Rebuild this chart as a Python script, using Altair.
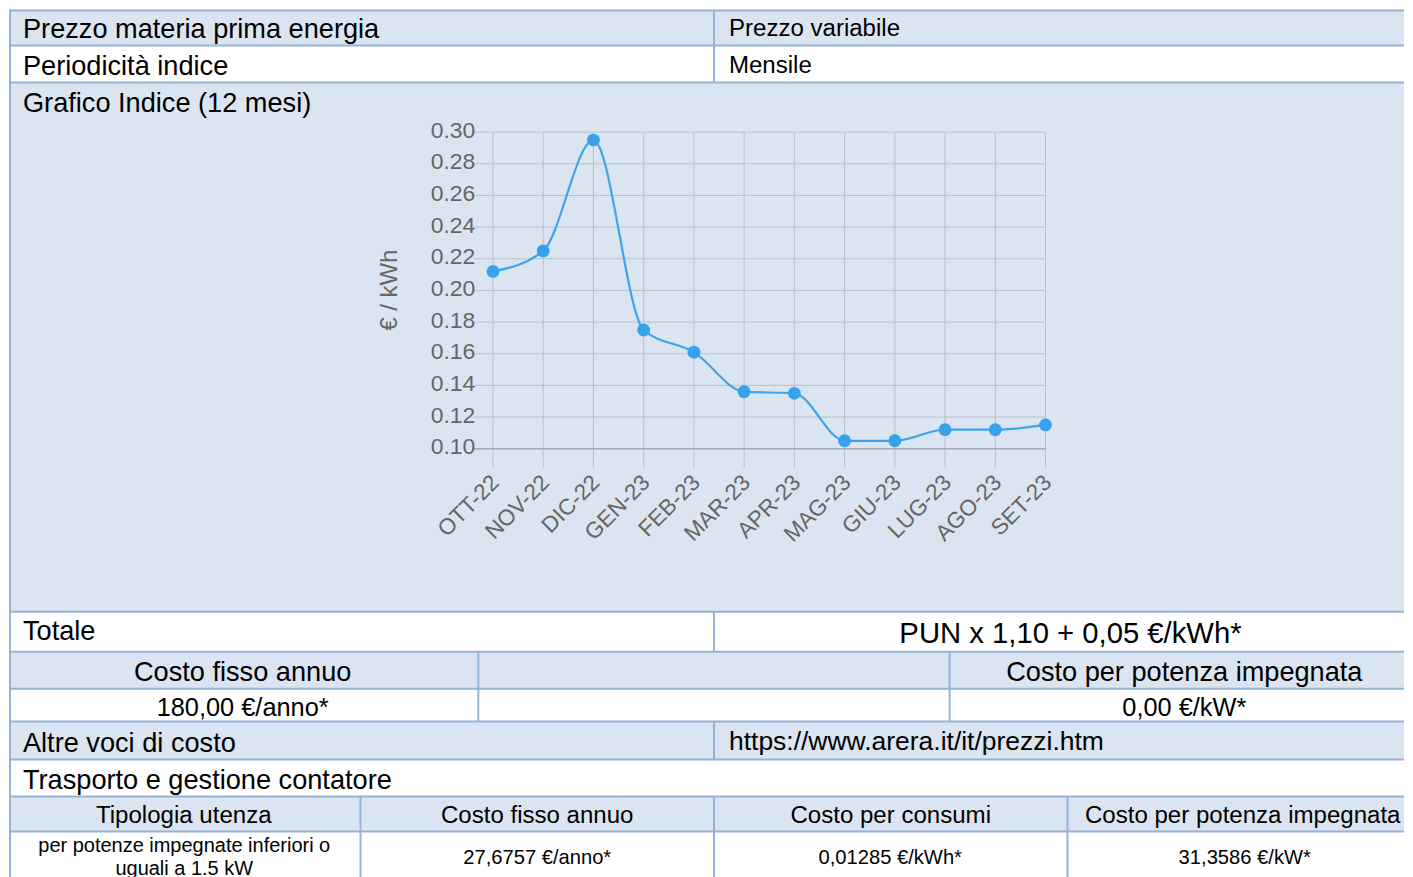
import altair as alt
import pandas as pd

# ---------------- chart data ----------------
months = ["OTT-22", "NOV-22", "DIC-22", "GEN-23", "FEB-23", "MAR-23",
          "APR-23", "MAG-23", "GIU-23", "LUG-23", "AGO-23", "SET-23"]
prices = [0.212, 0.225, 0.295, 0.175, 0.161, 0.136,
          0.135, 0.105, 0.105, 0.112, 0.112, 0.115]
y_ticks = [0.10, 0.12, 0.14, 0.16, 0.18, 0.20, 0.22, 0.24, 0.26, 0.28, 0.30]
y_tick_labels = ["0.10", "0.12", "0.14", "0.16", "0.18", "0.20",
                 "0.22", "0.24", "0.26", "0.28", "0.30"]
y_title = "€ / kWh"
chart_label = "Grafico Indice (12 mesi)"

# ---------------- table texts ----------------
row_prezzo = ["Prezzo materia prima energia", "Prezzo variabile"]
row_periodo = ["Periodicità indice", "Mensile"]
row_totale = ["Totale", "PUN x 1,10 + 0,05 €/kWh*"]
row_costi_head = ["Costo fisso annuo", "Costo per potenza impegnata"]
row_costi_val = ["180,00 €/anno*", "0,00 €/kW*"]
row_altre = ["Altre voci di costo", "https://www.arera.it/it/prezzi.htm"]
row_trasporto = ["Trasporto e gestione contatore"]
row_tip_head = ["Tipologia utenza", "Costo fisso annuo", "Costo per consumi",
                "Costo per potenza impegnata"]
row_tip_val = ["per potenze impegnate inferiori o\nuguali a 1.5 kW", "27,6757 €/anno*",
               "0,01285 €/kWh*", "31,3586 €/kW*"]

# ---------------- styles ----------------
FONT = "Liberation Sans"
BLUE = "#dbe5f1"
WHITE = "#ffffff"
BORDER = "#95b3d7"
GRID = "#b8c0cb"
AXIS = "#a3abb5"
LINE = "#3ea4ec"
POINT = "#36a2eb"
TW = 1397  # table width visible in the page (body width, avoids downscaling)
L, M, XL = 27.2, 24.1, 29.3
NUM_M, NUM_S, S = 25.4, 20.2, 20.0


def rules(h, dividers, top=0):
    d = pd.DataFrame({"k": [0]})
    out = [alt.Chart(d).mark_rule(color=BORDER, strokeWidth=2).encode(
        x=alt.value(0), x2=alt.value(TW), y=alt.value(top))]
    for b in dividers:
        out.append(alt.Chart(d).mark_rule(color=BORDER, strokeWidth=2).encode(
            x=alt.value(max(b, 1)), y=alt.value(0), y2=alt.value(h)))
    return out


def label(text, x, y, size, align="left", line_height=None):
    mk = dict(align=align, baseline="middle", font=FONT, fontSize=size, color="#000000")
    if "\n" in text:
        mk["lineBreak"] = "\n"
        mk["lineHeight"] = line_height
    return alt.Chart(pd.DataFrame({"t": [text]})).mark_text(**mk).encode(
        text=alt.Text("t:N"), x=alt.value(x), y=alt.value(y))


def table_row(h, fill, dividers, labels, top=0):
    return alt.layer(*rules(h, dividers, top), *labels).properties(
        width=TW, height=h, view=alt.ViewBackground(fill=fill, strokeWidth=0))


# ---------------- chart cell ----------------
CH = 530
xsc = alt.Scale(type="point", domain=months, range=[484.7, 1038], padding=0)
ysc = alt.Scale(domain=[0.10, 0.30], range=[366.7, 49.7], nice=False, zero=False)

df_line = pd.DataFrame({"mese": months, "prezzo": prices})
df_yt = pd.DataFrame({"prezzo": y_ticks, "lab": y_tick_labels})
df_m = pd.DataFrame({"mese": months})

hgrid = alt.Chart(df_yt).mark_rule(color=GRID, strokeWidth=1).encode(
    y=alt.Y("prezzo:Q", scale=ysc, axis=None), x=alt.value(465), x2=alt.value(1038))
vgrid = alt.Chart(df_m).mark_rule(color=GRID, strokeWidth=1).encode(
    x=alt.X("mese:N", scale=xsc, axis=None), y=alt.value(49.7), y2=alt.value(386))
baseline_rule = alt.Chart(df_yt.iloc[[0]]).mark_rule(color=AXIS, strokeWidth=1.5).encode(
    y=alt.Y("prezzo:Q", scale=ysc, axis=None), x=alt.value(465), x2=alt.value(1038))
ylab = alt.Chart(df_yt).mark_text(align="right", baseline="middle", font=FONT, dy=-1.5,
                                  fontSize=23, color="#666666").encode(
    y=alt.Y("prezzo:Q", scale=ysc, axis=None), x=alt.value(467), text="lab:N")
xlab = alt.Chart(df_m).mark_text(align="right", baseline="middle", angle=315, font=FONT,
                                 xOffset=2.5, fontSize=22.5, color="#666666").encode(
    x=alt.X("mese:N", scale=xsc, axis=None), y=alt.value(397), text="mese:N")
ytitle = alt.Chart(pd.DataFrame({"t": [y_title]})).mark_text(
    angle=270, align="center", baseline="middle", font=FONT, fontSize=24,
    color="#666666").encode(text="t:N", x=alt.value(382), y=alt.value(208))
line = alt.Chart(df_line).mark_line(interpolate="monotone", color=LINE, strokeWidth=2.2).encode(
    x=alt.X("mese:N", scale=xsc, axis=None), y=alt.Y("prezzo:Q", scale=ysc, axis=None))
pts = alt.Chart(df_line).mark_circle(size=165, color=POINT, opacity=1).encode(
    x=alt.X("mese:N", scale=xsc, axis=None), y=alt.Y("prezzo:Q", scale=ysc, axis=None))

graph = alt.layer(*rules(CH, [0]), label(chart_label, 14, 22, L),
                  hgrid, vgrid, baseline_rule, ylab, xlab, ytitle, line, pts).properties(
    width=TW, height=CH, view=alt.ViewBackground(fill=BLUE, strokeWidth=0))

# ---------------- table ----------------
r1 = table_row(36, BLUE, [0, 706], [label(row_prezzo[0], 14, 20, L),
                                    label(row_prezzo[1], 721, 19, M)], top=1)
r2 = table_row(37, WHITE, [0, 706], [label(row_periodo[0], 14, 21, L),
                                     label(row_periodo[1], 721, 20, M)])
r4 = table_row(40, WHITE, [0, 706], [label(row_totale[0], 14, 20, L),
                                     label(row_totale[1], 1063, 22, XL, "center")])
r5 = table_row(37, BLUE, [0, 470, 942], [label(row_costi_head[0], 234, 21, L, "center"),
                                         label(row_costi_head[1], 1177, 21, L, "center")])
r6 = table_row(33, WHITE, [0, 470, 942], [label(row_costi_val[0], 234, 19, NUM_M, "center"),
                                          label(row_costi_val[1], 1177, 19, NUM_M, "center")])
r7 = table_row(38, BLUE, [0, 706], [label(row_altre[0], 14, 22, L),
                                    label(row_altre[1], 721, 20, 26.5)])
r8 = table_row(37, WHITE, [0], [label(row_trasporto[0], 14, 21, L)])
r9 = table_row(35, BLUE, [0, 352, 706, 1060],
               [label(row_tip_head[0], 175, 20, M, "center"),
                label(row_tip_head[1], 529, 20, M, "center"),
                label(row_tip_head[2], 883, 20, M, "center"),
                label(row_tip_head[3], 1235.5, 20, M, "center")])
r10 = table_row(46, WHITE, [0, 352, 706, 1060],
                [label(row_tip_val[0], 175.5, 15, S, "center", line_height=23),
                 label(row_tip_val[1], 529, 27, NUM_S, "center"),
                 label(row_tip_val[2], 882.5, 27, NUM_S, "center"),
                 label(row_tip_val[3], 1237.5, 27, NUM_S, "center")])

chart = alt.vconcat(r1, r2, graph, r4, r5, r6, r7, r8, r9, r10,
                    spacing=0, bounds="flush", padding=0).configure(
    background="#ffffff").configure_view(strokeWidth=0)

chart.save("out.html", embed_options={"renderer": "svg", "actions": False})
